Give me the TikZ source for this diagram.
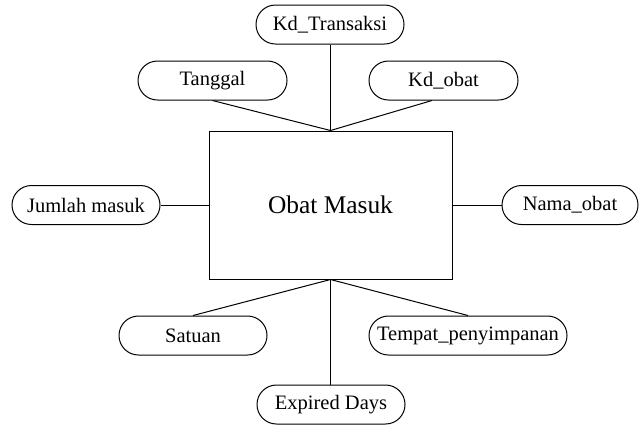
\documentclass[tikz,border=0pt]{standalone}
\usepackage{fontspec}
\setmainfont{Liberation Serif}
\begin{document}
\begin{tikzpicture}[x=0.5pt,y=-0.5pt,
  attr/.style={draw, line width=0.5pt, rounded corners=9.75pt, minimum height=19.5pt,
    minimum width=74pt, inner sep=0pt, font=\fontsize{10.25pt}{12pt}\selectfont},
  entity/.style={draw, line width=0.5pt, minimum width=121.5pt, minimum height=74pt,
    inner sep=0pt, font=\fontsize{12.7pt}{15pt}\selectfont},
  link/.style={line width=0.5pt}]
  \useasboundingbox (0,0) rectangle (640,425);
  % entity
  \node[entity] (main) at (330.5,205) {Obat Masuk};
  % attributes
  \node[attr] (kdtrans) at (330,24.5) {Kd\_Transaksi};
  \node[attr, minimum width=74.5pt] (tanggal) at (212.5,80.5) {Tanggal};
  \node[attr, minimum width=74.5pt] (kdobat) at (443.5,80.5) {Kd\_obat};
  \node[attr] (jumlah) at (86,205) {Jumlah masuk};
  \node[attr, minimum width=68pt] (nama) at (570,205) {Nama\_obat};
  \node[attr] (satuan) at (193,335.5) {Satuan};
  \node[attr, minimum width=99pt] (tempat) at (468,335.5) {Tempat\_penyimpanan};
  \node[attr] (expired) at (331,404.5) {Expired Days};
  % connectors
  \draw[link] (main.north) -- (main.north |- kdtrans.south);
  \draw[link] (main.north) -- (tanggal.south);
  \draw[link] (main.north) -- ([xshift=-5.75pt]kdobat.south);
  \draw[link] (main.west) -- (jumlah.east);
  \draw[link] (main.east) -- (nama.west);
  \draw[link] (main.south) -- (satuan.north);
  \draw[link] (main.south) -- (tempat.north);
  \draw[link] (main.south) -- (main.south |- expired.north);
\end{tikzpicture}
\end{document}
